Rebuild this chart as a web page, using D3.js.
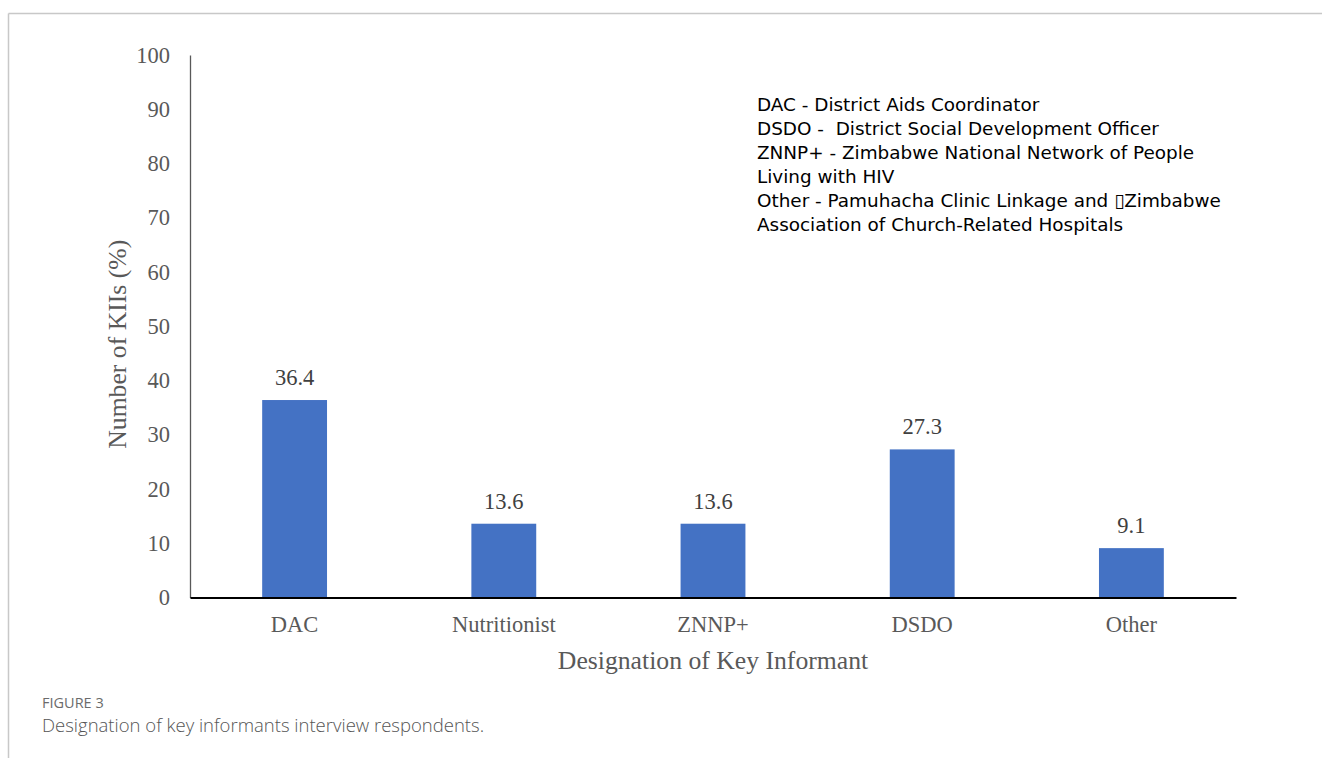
<!DOCTYPE html>
<html>
<head>
<meta charset="utf-8">
<script src="https://cdn.jsdelivr.net/npm/d3@7"></script>
<style>
  body { margin: 0; background: #fff; }
  svg { display: block; }
</style>
</head>
<body>
<div id="chart"></div>
<script>
// Chart values
const categories = ["DAC", "Nutritionist", "ZNNP+", "DSDO", "Other"];
const values = [36.4, 13.6, 13.6, 27.3, 9.1];
const yTicks = [0, 10, 20, 30, 40, 50, 60, 70, 80, 90, 100];
const notes = [
    "DAC - District Aids Coordinator",
    "DSDO -  District Social Development Officer",
    "ZNNP+ - Zimbabwe National Network of People",
    "Living with HIV",
    "Other - Pamuhacha Clinic Linkage and \u25AFZimbabwe",
    "Association of Church-Related Hospitals"
];

const width = 1322, height = 758;
const plot = {left: 190, right: 1236, top: 55, bottom: 597.5};

const svg = d3.select("#chart")
    .append("svg")
    .attr("width", width)
    .attr("height", height);

// panel frame (top and left edge only)
svg.append("line")
    .attr("x1", 8.5).attr("y1", 13.5).attr("x2", width).attr("y2", 13.5)
    .attr("stroke", "#c8c8c8").attr("stroke-width", 1.5);
svg.append("line")
    .attr("x1", 8.5).attr("y1", 13.5).attr("x2", 8.5).attr("y2", height)
    .attr("stroke", "#c8c8c8").attr("stroke-width", 1.5);

const x = d3.scaleBand()
    .domain(categories)
    .range([plot.left, plot.right])
    .paddingInner(0.69)
    .paddingOuter(0.345);

const y = d3.scaleLinear()
    .domain([0, 100])
    .range([plot.bottom, plot.top]);

const serif = "'Liberation Serif', 'Times New Roman', serif";

// y axis
const yAxis = svg.append("g")
    .attr("transform", `translate(${plot.left},0)`)
    .call(d3.axisLeft(y).tickValues(yTicks).tickSize(0).tickPadding(20));
yAxis.select(".domain").attr("stroke", "#595959").attr("stroke-width", 1.3);
yAxis.selectAll("text")
    .attr("font-family", serif)
    .attr("font-size", "22.5px")
    .attr("fill", "#595959");

// bars
svg.append("g")
    .selectAll("rect")
    .data(values)
    .join("rect")
    .attr("x", (d, i) => x(categories[i]))
    .attr("y", d => y(d))
    .attr("width", x.bandwidth())
    .attr("height", d => y(0) - y(d))
    .attr("fill", "#4472C4");

// value labels
svg.append("g")
    .selectAll("text")
    .data(values)
    .join("text")
    .attr("x", (d, i) => x(categories[i]) + x.bandwidth() / 2)
    .attr("y", d => y(d) - 15)
    .attr("text-anchor", "middle")
    .attr("font-family", serif)
    .attr("font-size", "22.5px")
    .attr("fill", "#404040")
    .text(d => d.toFixed(1));

// x axis
const xAxis = svg.append("g")
    .attr("transform", `translate(0,${plot.bottom})`)
    .call(d3.axisBottom(x).tickSize(0).tickPadding(19));
xAxis.select(".domain").attr("stroke", "#000").attr("stroke-width", 2);
xAxis.selectAll("text")
    .attr("font-family", serif)
    .attr("font-size", "22.5px")
    .attr("fill", "#595959");

// axis titles
svg.append("text")
    .attr("transform", `translate(126,${(plot.top + plot.bottom) / 2 + 18}) rotate(-90)`)
    .attr("text-anchor", "middle")
    .attr("font-family", serif)
    .attr("font-size", "25.7px")
    .attr("fill", "#595959")
    .text("Number of KIIs (%)");

svg.append("text")
    .attr("x", (plot.left + plot.right) / 2)
    .attr("y", 669)
    .attr("text-anchor", "middle")
    .attr("font-family", serif)
    .attr("font-size", "25.7px")
    .attr("fill", "#595959")
    .text("Designation of Key Informant");

// abbreviations note
svg.append("g")
    .selectAll("text")
    .data(notes)
    .join("text")
    .attr("x", 757)
    .attr("y", (d, i) => 111 + i * 24)
    .attr("font-family", "'DejaVu Sans', sans-serif")
    .attr("font-size", "18.4px")
    .attr("fill", "#000")
    .style("white-space", "pre")
    .text(d => d);

// figure caption
svg.append("text")
    .attr("x", 42)
    .attr("y", 708)
    .attr("font-family", "'Open Sans', sans-serif")
    .attr("font-size", "14.5px")
    .attr("fill", "#6b6b6b")
    .text("FIGURE 3");

svg.append("text")
    .attr("x", 42)
    .attr("y", 732)
    .attr("font-family", "'Open Sans', sans-serif")
    .attr("font-weight", 300)
    .attr("font-size", "18.5px")
    .attr("fill", "#555")
    .text("Designation of key informants interview respondents.");
</script>
</body>
</html>
